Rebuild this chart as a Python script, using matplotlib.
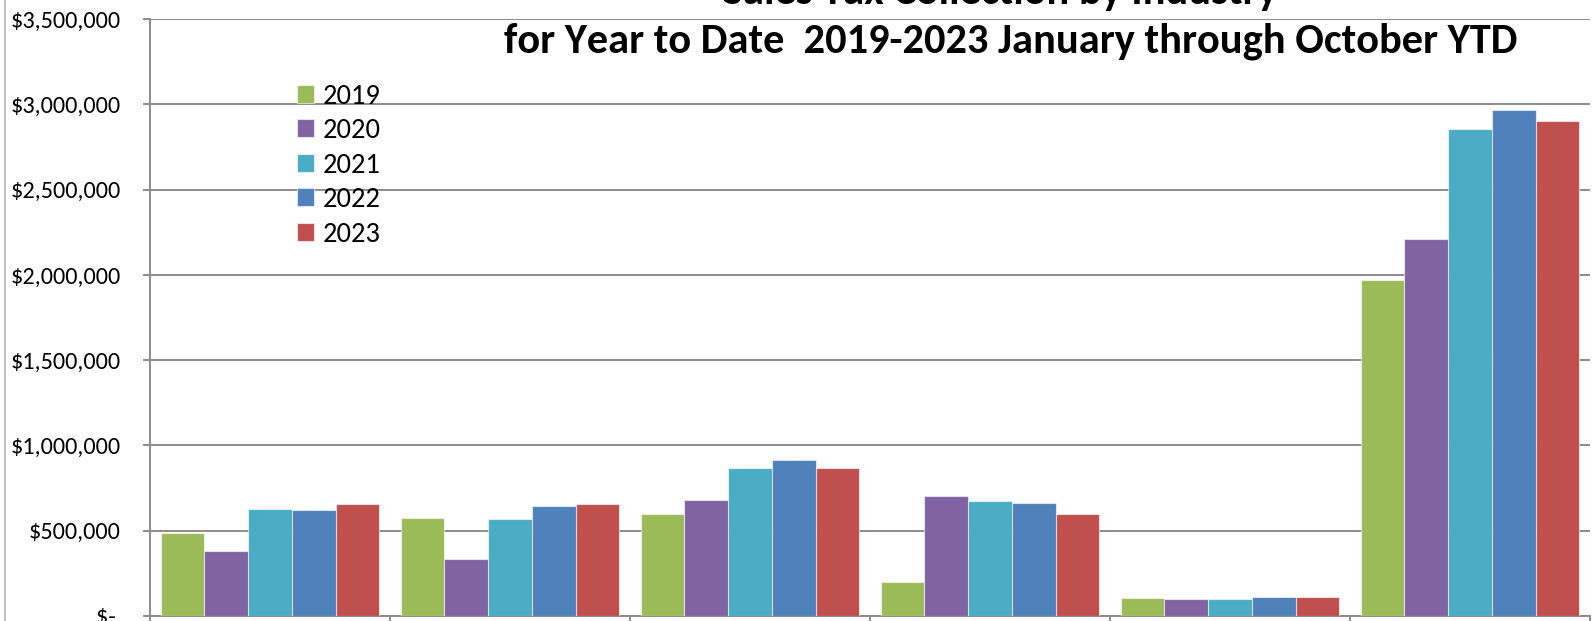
import matplotlib
matplotlib.use("Agg")
import matplotlib.pyplot as plt
from matplotlib import font_manager
from matplotlib.lines import Line2D
from matplotlib.ticker import FuncFormatter
import numpy as np

# data -------------------------------------------------------------------------
years = ['2019', '2020', '2021', '2022', '2023']
n_industries = 6   # industry names are cut off at the bottom of the picture
sales_2019 = [486000, 573000, 599000, 200000, 104000, 1970000]
sales_2020 = [382000, 335000, 681000, 703000, 100000, 2210000]
sales_2021 = [628000, 569000, 869000, 677000, 100000, 2853000]
sales_2022 = [624000, 646000, 916000, 660000, 110000, 2965000]
sales_2023 = [656000, 658000, 867000, 597000, 112000, 2900000]
y_ticks = [0, 500000, 1000000, 1500000, 2000000, 2500000, 3000000, 3500000]

title_1 = 'Sales Tax Collection by Industry'
title_2 = 'for Year to Date  2019-2023 January through October YTD'

colors = ['#9BBB59', '#8064A2', '#4BACC6', '#4F81BD', '#C0504D']
series = [sales_2019, sales_2020, sales_2021, sales_2022, sales_2023]

# font: something close to Calibri
installed = {f.name for f in font_manager.fontManager.ttflist}
font = 'DejaVu Sans'
for name in ['Carlito', 'Lato', 'Open Sans', 'Liberation Sans']:
    if name in installed:
        font = name
        break
plt.rcParams['font.family'] = [font, 'DejaVu Sans']

W, H = 1596, 621
fig = plt.figure(figsize=(W / 100, H / 100), dpi=100)
ax = fig.add_axes([150 / W, 5 / H, 1440 / W, 597 / H])

grey = '#8c8c8c'
x = np.arange(n_industries)
bw = 0.182
for i, vals in enumerate(series):
    ax.bar(x + (i - 2) * bw, vals, width=bw, color=colors[i],
           edgecolor=(1, 1, 1, 0.6), linewidth=0.8, label=years[i], zorder=3)

ax.set_xlim(-0.5, n_industries - 0.5)
ax.set_ylim(0, 3500000)
ax.set_yticks(y_ticks)


def money(v, pos):
    if v == 0:
        return '$- '
    return '${:,.0f}'.format(v)


ax.yaxis.set_major_formatter(FuncFormatter(money))
ax.set_xticks(np.arange(n_industries + 1) - 0.5)
ax.set_xticklabels([])

ax.yaxis.grid(True, color=grey, linewidth=1.4, zorder=0)
ax.set_axisbelow(True)
for s in ['top', 'right']:
    ax.spines[s].set_visible(False)
for s in ['left', 'bottom']:
    ax.spines[s].set_color(grey)
    ax.spines[s].set_linewidth(1.4)
ax.tick_params(axis='y', direction='out', length=5, width=1.4, color=grey,
               labelsize=17.5, pad=16)
ax.tick_params(axis='x', direction='out', length=8, width=1.4, color=grey)

leg = ax.legend(loc='upper left', bbox_to_anchor=(297 / W, 1 - 84 / H),
                bbox_transform=fig.transFigure, frameon=False, fontsize=20.5,
                handlelength=0.6, handleheight=0.6, handletextpad=0.3,
                labelspacing=0.33, borderpad=0, borderaxespad=0)

fig.text(1000 / W, 1 - 4 / H, title_1, ha='center', va='baseline',
         fontsize=30.5, fontweight='bold')
fig.text(1011 / W, 1 - 52 / H, title_2, ha='center', va='baseline',
         fontsize=30.5, fontweight='bold')

fig.add_artist(Line2D([5 / W, 5 / W], [0, 1], transform=fig.transFigure,
                      color='#b4b4b4', linewidth=1.2))

fig.savefig('out.png', dpi=100)
